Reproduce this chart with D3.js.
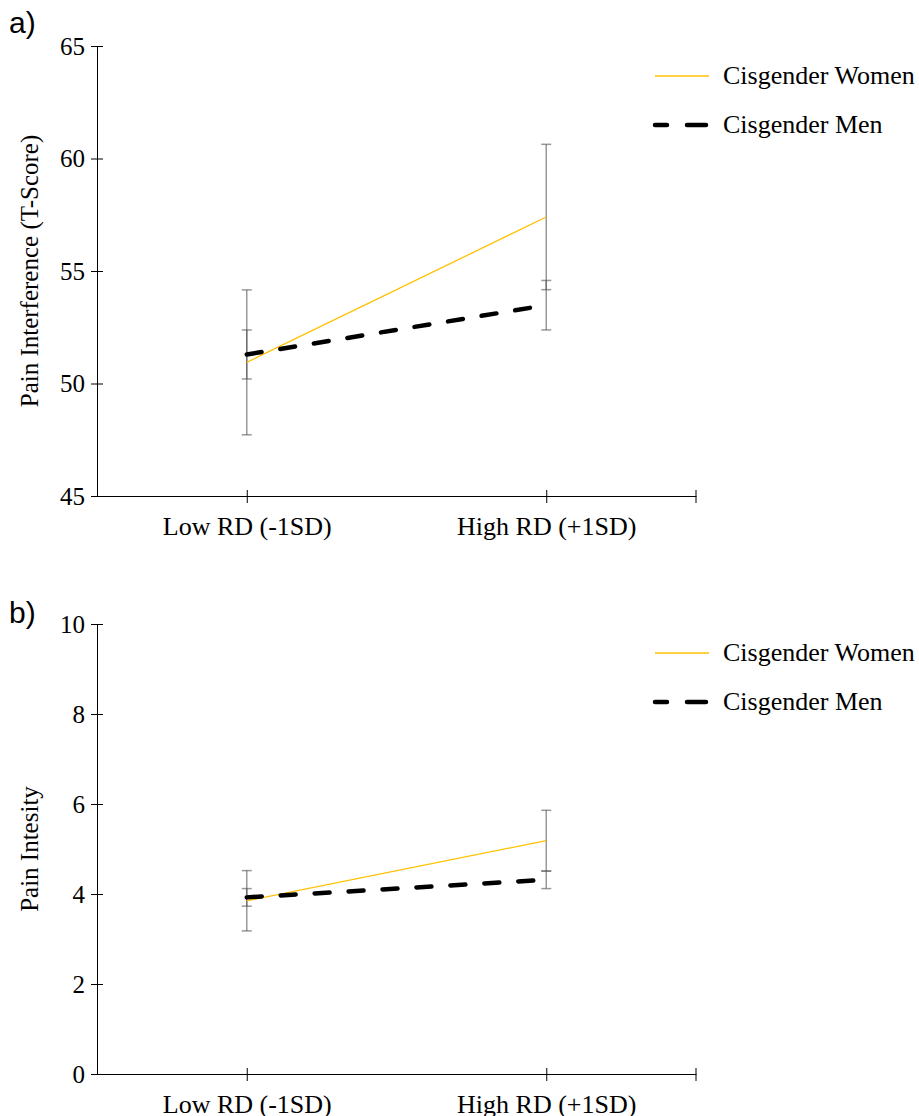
<!DOCTYPE html>
<html>
<head>
<meta charset="utf-8">
<script src="https://cdn.jsdelivr.net/npm/d3@7"></script>
<style>
  html, body { margin: 0; padding: 0; background: #fff; }
  svg { display: block; }
</style>
</head>
<body>
<svg id="chart" width="919" height="1116"></svg>
<script>
// ---- data ----
const categories = ["Low RD (-1SD)", "High RD (+1SD)"];
const seriesNames = ["Cisgender Women", "Cisgender Men"];

// panel a: Pain Interference (T-Score)
const womenA = [50.94, 57.40];
const womenAErr = [3.22, 3.23];
const menA = [51.29, 53.48];
const menAErr = [1.09, 1.10];
const ticksA = [45, 50, 55, 60, 65];

// panel b: Pain Intensity
const womenB = [3.85, 5.185];
const womenBErr = [0.67, 0.675];
const menB = [3.925, 4.315];
const menBErr = [0.195, 0.195];
const ticksB = [0, 2, 4, 6, 8, 10];

const panels = [
  { label: "a)", title: "Pain Interference (T-Score)", domain: [45, 65], ticks: ticksA,
    top: 46, bottom: 496, women: womenA, womenErr: womenAErr, men: menA, menErr: menAErr,
    labelY: 33, legendY: 76 },
  { label: "b)", title: "Pain Intesity", domain: [0, 10], ticks: ticksB,
    top: 624, bottom: 1074, women: womenB, womenErr: womenBErr, men: menB, menErr: menBErr,
    labelY: 623, legendY: 653 }
];

const serif = "'Liberation Serif', 'Times New Roman', Times, serif";
const sans = "'Liberation Sans', Arial, Helvetica, sans-serif";
const gold = "#FFC000";

const svg = d3.select("#chart");
const x = d3.scalePoint().domain(categories).range([97, 696]).padding(0.5);

panels.forEach(p => {
  const y = d3.scaleLinear().domain(p.domain).range([p.bottom, p.top]);
  const g = svg.append("g");

  // panel label
  g.append("text").attr("x", 9).attr("y", p.labelY)
    .attr("font-family", sans).attr("font-size", 30).text(p.label);

  // y axis
  const ya = g.append("g").attr("transform", `translate(${x.range()[0]},0)`)
    .call(d3.axisLeft(y).tickValues(p.ticks).tickSizeOuter(0).tickFormat(d3.format("d")));
  ya.select(".domain").attr("stroke", "#000");
  ya.selectAll(".tick line").attr("x1", -6).attr("x2", 6).attr("stroke", "#000");
  ya.selectAll(".tick text").attr("x", -12).attr("font-family", serif).attr("font-size", 25).attr("fill", "#000");

  // x axis
  const xa = g.append("g").attr("transform", `translate(0,${p.bottom})`)
    .call(d3.axisBottom(x).tickSizeOuter(0));
  xa.select(".domain").attr("stroke", "#000");
  xa.selectAll(".tick line").attr("y1", -6).attr("y2", 7).attr("stroke", "#000");
  xa.selectAll(".tick text").attr("y", 39).attr("dy", 0)
    .attr("font-family", serif).attr("font-size", 26).attr("fill", "#000");
  xa.append("line").attr("x1", x.range()[1]).attr("x2", x.range()[1])
    .attr("y1", -6).attr("y2", 7).attr("stroke", "#000");

  // y title
  g.append("text")
    .attr("transform", `translate(38,${(p.top + p.bottom) / 2}) rotate(-90)`)
    .attr("text-anchor", "middle").attr("font-family", serif).attr("font-size", 25)
    .text(p.title);

  // error bars
  const errData = [];
  categories.forEach((c, i) => {
    errData.push({ c, v: p.women[i], e: p.womenErr[i] });
    errData.push({ c, v: p.men[i], e: p.menErr[i] });
  });
  const eb = g.append("g").attr("stroke", "#555").attr("stroke-opacity", 0.6).attr("stroke-width", 1.5);
  errData.forEach(d => {
    const cx = x(d.c);
    eb.append("line").attr("x1", cx).attr("x2", cx).attr("y1", y(d.v + d.e)).attr("y2", y(d.v - d.e));
    eb.append("line").attr("x1", cx - 5).attr("x2", cx + 5).attr("y1", y(d.v + d.e)).attr("y2", y(d.v + d.e));
    eb.append("line").attr("x1", cx - 5).attr("x2", cx + 5).attr("y1", y(d.v - d.e)).attr("y2", y(d.v - d.e));
  });

  const line = d3.line().x((d, i) => x(categories[i])).y(d => y(d));

  g.append("path").datum(p.women).attr("d", line)
    .attr("fill", "none").attr("stroke", gold).attr("stroke-width", 1.3);
  g.append("path").datum(p.men).attr("d", line)
    .attr("fill", "none").attr("stroke", "#000").attr("stroke-width", 4.5)
    .attr("stroke-linecap", "round").attr("stroke-dasharray", "15,19");

  // legend
  const lg = g.append("g");
  lg.append("line").attr("x1", 655).attr("x2", 709).attr("y1", p.legendY).attr("y2", p.legendY)
    .attr("stroke", gold).attr("stroke-width", 1.3);
  lg.append("line").attr("x1", 655).attr("x2", 706).attr("y1", p.legendY + 49).attr("y2", p.legendY + 49)
    .attr("stroke", "#000").attr("stroke-width", 4.5).attr("stroke-linecap", "round")
    .attr("stroke-dasharray", "12,20,19,20");
  seriesNames.forEach((n, i) => {
    lg.append("text").attr("x", 723).attr("y", p.legendY + 49 * i).attr("dy", "0.32em")
      .attr("font-family", serif).attr("font-size", 26).text(n);
  });
});
</script>
</body>
</html>
